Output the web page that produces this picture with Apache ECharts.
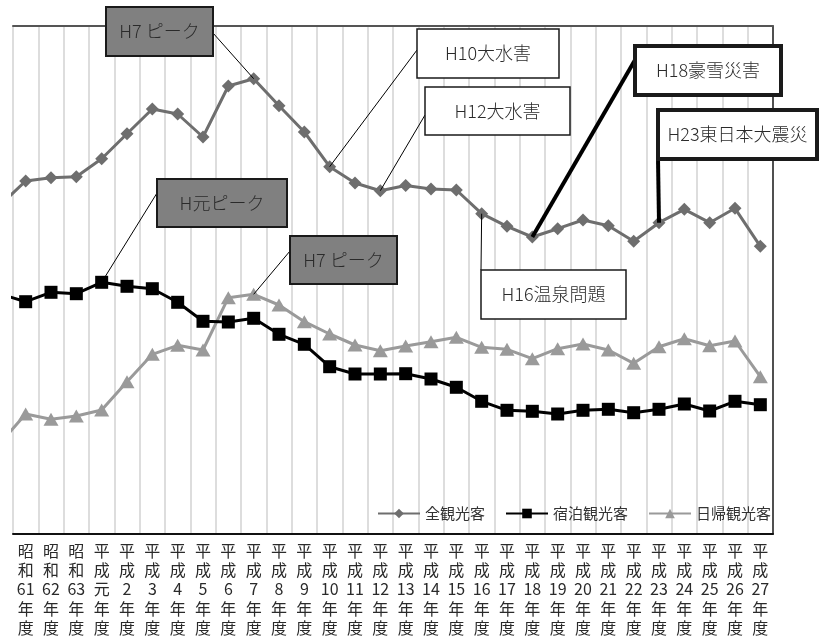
<!DOCTYPE html>
<html><head><meta charset="utf-8">
<script src="https://cdn.jsdelivr.net/npm/echarts@6/dist/echarts.min.js"></script>
<style>html,body{margin:0;padding:0;background:#fff}#c{width:819px;height:638px}</style>
</head><body><div id="c"></div>
<script>
// categories (first one, 昭和60年度, lies just outside the visible window)
const categories = ['昭和60年度','昭和61年度','昭和62年度','昭和63年度','平成元年度',
  '平成2年度','平成3年度','平成4年度','平成5年度','平成6年度','平成7年度','平成8年度','平成9年度',
  '平成10年度','平成11年度','平成12年度','平成13年度','平成14年度','平成15年度','平成16年度',
  '平成17年度','平成18年度','平成19年度','平成20年度','平成21年度','平成22年度','平成23年度',
  '平成24年度','平成25年度','平成26年度','平成27年度'];
// relative visitor values (no scale shown on the chart)
const seriesNames = ['全観光客','宿泊観光客','日帰観光客'];
const totalVisitors = [329,353,356.3,357.3,375.3,400.3,425,420,397,448,455.3,428.3,402,367.3,351,343.3,
  348.5,345,344,320.3,307.7,297,305.3,314,308.3,292.7,311.3,324.7,311.3,325.7,287.7];
const overnightVisitors = [240,232.3,241.7,240.3,251.7,247.7,245.3,231.7,212.7,212,215.7,199.7,189.7,167.3,160,160,
  160.3,155,146.7,132.7,123.7,122.7,120,123.7,124.7,121.3,124.7,130,123,132.7,129.3];
const dayVisitors = [91,120,114.7,118,124,152.3,179.7,188.7,184,236.3,239.7,229,212.3,200,189,183.3,
  188,192.3,196.7,186.7,184.7,175.3,185.3,190,184,170.7,187.3,195.3,188.3,193,157.3];
// annotations: text, series index, category name
const annotations = [
  {text:'H7 ピーク', series:0, cat:'平成7年度'},
  {text:'H10大水害', series:0, cat:'平成10年度'},
  {text:'H12大水害', series:0, cat:'平成12年度'},
  {text:'H18豪雪災害', series:0, cat:'平成18年度'},
  {text:'H23東日本大震災', series:0, cat:'平成23年度'},
  {text:'H16温泉問題', series:0, cat:'平成16年度'},
  {text:'H元ピーク', series:1, cat:'平成元年度'},
  {text:'H7 ピーク', series:2, cat:'平成7年度'}
];
// box layout (position/style only)
const boxLayout = [
  {x:106,y:7,w:107,h:49,fill:'#808080',lw:2,ax:213,ay:33,llw:1},
  {x:417,y:29,w:142,h:49,fill:'#fff',lw:1.5,ax:417,ay:50,llw:1},
  {x:425,y:87,w:145,h:48,fill:'#fff',lw:1.5,ax:425,ay:115,llw:1},
  {x:635,y:46,w:146,h:49,fill:'#fff',lw:4,ax:635,ay:60,llw:4},
  {x:658,y:110,w:159,h:49,fill:'#fff',lw:4,ax:658,ay:159,llw:4},
  {x:481,y:270,w:145,h:49,fill:'#fff',lw:1.5,ax:481,ay:270,llw:1},
  {x:157,y:179,w:130,h:48,fill:'#808080',lw:2,ax:157,ay:193,llw:1},
  {x:290,y:236,w:107,h:48,fill:'#808080',lw:2,ax:290,ay:251,llw:1}
];
const FONT = '"Noto Sans CJK JP","Noto Sans",sans-serif';
const chart = echarts.init(document.getElementById('c'), null, {renderer:'canvas'});
function fmtLabel(v){
  const era = v.slice(0,2), num = v.slice(2, v.length-2);
  return era[0]+'\n'+era[1]+'\n'+num+'\n年\n度';
}
chart.setOption({
  animation:false,
  textStyle:{fontFamily:FONT},
  grid:{left:13,right:46,top:26,bottom:104,containLabel:false},
  legend:{
    left:372, top:501, itemWidth:42, itemHeight:12, itemGap:20,
    textStyle:{fontSize:15,color:'#333',fontFamily:FONT},
    data:seriesNames
  },
  xAxis:[{
    type:'category', data:categories, min:1, boundaryGap:true,
    axisLine:{lineStyle:{color:'#111',width:2}},
    axisTick:{show:false},
    splitLine:{show:true, interval:0, lineStyle:{color:'#d2d2d2',width:1.5}},
    axisLabel:{interval:0, margin:7, fontSize:16, lineHeight:19.3, color:'#2a2a2a', fontFamily:FONT, formatter:fmtLabel}
  },{
    type:'category', data:categories, min:1, position:'top',
    axisLine:{lineStyle:{color:'#555',width:2}},
    axisTick:{show:false}, axisLabel:{show:false}, splitLine:{show:false}
  }],
  yAxis:{
    type:'value', min:0, max:508, position:'right',
    axisLine:{show:true, onZero:false, lineStyle:{color:'#222',width:1.5}},
    axisTick:{show:false}, axisLabel:{show:false}, splitLine:{show:false}
  },
  series:[{
    name:seriesNames[0], type:'line', data:totalVisitors, symbol:'diamond', symbolSize:13,
    lineStyle:{color:'#6e6e6e',width:3}, itemStyle:{color:'#6e6e6e'}, z:4
  },{
    name:seriesNames[1], type:'line', data:overnightVisitors, symbol:'rect', symbolSize:13,
    lineStyle:{color:'#000',width:3}, itemStyle:{color:'#000'}, z:3
  },{
    name:seriesNames[2], type:'line', data:dayVisitors, symbol:'triangle', symbolSize:[15,13],
    lineStyle:{color:'#9a9a9a',width:3}, itemStyle:{color:'#9a9a9a'}, z:2
  }]
});
const dataSets = [totalVisitors, overnightVisitors, dayVisitors];
const elements = [];
annotations.forEach((a,i)=>{
  const b = boxLayout[i];
  const idx = categories.indexOf(a.cat);
  const p = chart.convertToPixel({seriesIndex:a.series}, [idx, dataSets[a.series][idx]]);
  elements.push({type:'line', z:50, shape:{x1:b.ax,y1:b.ay,x2:p[0],y2:p[1]},
    style:{stroke:'#000',lineWidth:b.llw}});
});
annotations.forEach((a,i)=>{
  const b = boxLayout[i];
  elements.push({type:'rect', z:60, shape:{x:b.x,y:b.y,width:b.w,height:b.h},
    style:{fill:b.fill,stroke:'#1a1a1a',lineWidth:b.lw}});
  elements.push({type:'text', z:61, x:b.x+b.w/2, y:b.y+b.h/2,
    style:{text:a.text,fill:'#2a2a2a',font:'300 18px '+FONT,align:'center',verticalAlign:'middle'}});
});
chart.setOption({graphic:{elements:elements}});
</script></body></html>
